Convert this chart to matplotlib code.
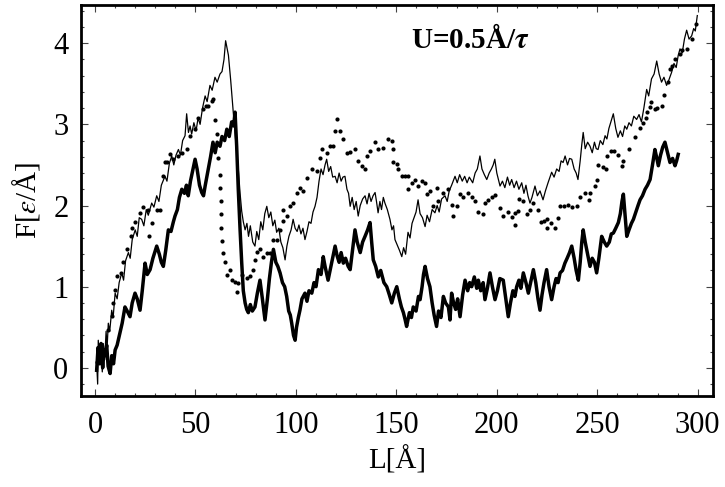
import matplotlib
matplotlib.use("Agg")
import matplotlib.pyplot as plt
from matplotlib.ticker import MultipleLocator

plt.rcParams['font.family'] = ['Liberation Serif', 'DejaVu Serif']
plt.rcParams['mathtext.fontset'] = 'stix'

# thin line series (x, y)
thin_x = [0.8, 1.3, 1.6, 2.3, 3.0, 3.6, 4.1, 4.8, 5.5, 6.0, 6.6, 7.3, 8.3, 9.0, 10.0, 11.0, 12.0, 13.3, 14.2, 15.2,
          16.6, 17.5, 18.5, 20.0, 21.0, 22.0, 23.2, 24.3, 25.5, 26.5, 28.2, 29.3, 30.7, 31.8, 33.0, 34.8, 35.8, 37.0,
          38.2, 39.2, 40.3, 41.5, 42.5, 43.6, 44.8, 45.6, 46.5, 47.3, 48.1, 49.2, 50.3, 51.3, 52.3, 53.5, 54.8, 55.8,
          57.2, 58.3, 59.7, 60.8, 62.2, 63.2, 64.2, 65.0, 66.4, 67.5, 68.8, 70.0, 71.3, 72.2, 73.0, 73.8, 74.7, 75.6,
          76.4, 77.3, 78.5, 79.6, 80.5, 81.5, 82.5, 83.5, 84.5, 85.5, 86.5, 87.5, 88.5, 89.5, 90.4, 91.5, 92.5, 93.5,
          94.6, 95.5, 96.5, 97.6, 98.6, 99.6, 100.6, 101.5, 102.5, 103.5, 104.5, 105.5, 106.5, 107.5, 108.5, 109.5,
          110.5, 111.5, 112.5, 113.5, 114.5, 115.3, 116.3, 117.3, 118.3, 119.5, 120.5, 121.5, 122.5, 123.4, 124.4,
          125.4, 126.2, 127.0, 128.0, 129.0, 130.0, 131.0, 132.0, 133.2, 134.4, 135.4, 136.4, 137.4, 138.4, 139.4,
          140.1, 140.9, 141.8, 142.6, 143.5, 144.3, 145.5, 146.8, 147.8, 148.6, 149.3, 150.3, 151.5, 152.7, 153.6,
          154.6, 155.8, 156.8, 157.8, 158.8, 159.8, 160.8, 161.8, 163.0, 164.3, 165.3, 166.5, 167.8, 169.2, 170.3,
          171.3, 172.5, 174.2, 175.3, 176.3, 177.5, 179.2, 180.3, 181.5, 182.8, 184.0, 185.2, 186.3, 188.0, 189.2,
          190.3, 191.6, 192.6, 193.8, 195.0, 196.2, 197.3, 198.2, 199.0, 200.0, 201.6, 202.8, 204.0, 205.3, 206.4,
          207.4, 208.6, 209.8, 211.0, 212.4, 213.5, 214.5, 215.5, 216.5, 217.5, 219.0, 220.2, 221.5, 223.0, 224.2,
          225.5, 227.3, 228.5, 229.8, 231.0, 232.0, 233.0, 234.0, 235.2, 236.2, 237.3, 238.5, 239.5, 240.4, 241.5,
          242.3, 243.0, 244.0, 245.2, 246.4, 247.5, 248.6, 249.5, 250.4, 251.5, 252.8, 253.9, 254.8, 255.8, 257.0,
          258.0, 259.2, 260.3, 261.5, 262.6, 263.7, 264.7, 265.8, 267.0, 268.2, 269.6, 270.8, 272.0, 273.2, 274.6,
          275.6, 277.0, 278.3, 279.6, 280.8, 282.0, 283.2, 284.5, 285.7, 287.0, 288.2, 289.3, 290.3, 291.2, 292.3,
          293.4, 294.5, 295.7, 297.0, 298.0, 298.8, 299.8]
thin_y = [0.06, -0.20, 0.34, 0.05, 0.28, -0.05, 0.30, 0.10, 0.45, 0.25, 0.55, 0.45, 0.71, 0.62, 0.92, 0.85, 1.05, 1.17,
          1.08, 1.32, 1.42, 1.35, 1.58, 1.70, 1.62, 1.85, 1.83, 1.75, 1.95, 1.88, 2.03, 1.98, 2.12, 2.05, 2.25, 2.36,
          2.30, 2.52, 2.61, 2.50, 2.62, 2.69, 2.62, 2.80, 2.86, 3.13, 2.90, 2.98, 2.88, 3.02, 2.92, 3.08, 3.00, 3.20,
          3.35, 3.28, 3.48, 3.42, 3.58, 3.52, 3.62, 3.65, 3.80, 4.03, 3.85, 3.55, 3.15, 2.80, 2.45, 2.15, 1.93, 1.80,
          1.70, 1.78, 1.62, 1.75, 1.55, 1.50, 1.68, 1.58, 1.80, 1.70, 1.90, 1.99, 1.85, 1.92, 1.75, 1.82, 1.67, 1.72,
          1.55, 1.48, 1.33, 1.50, 1.62, 1.70, 1.83, 1.72, 1.68, 1.76, 1.65, 1.72, 1.58, 1.68, 1.80, 1.78, 1.92, 1.99,
          2.10, 2.30, 2.45, 2.38, 2.50, 2.57, 2.42, 2.48, 2.35, 2.36, 2.28, 2.40, 2.30, 2.35, 2.36, 2.20, 2.15, 1.99,
          2.10, 1.95, 2.05, 1.87, 2.00, 2.08, 2.12, 2.02, 2.15, 2.05, 2.12, 2.16, 2.05, 1.91, 2.05, 1.95, 2.10, 2.03,
          1.95, 1.83, 1.70, 1.75, 1.58, 1.52, 1.45, 1.37, 1.48, 1.40, 1.67, 1.60, 1.78, 1.85, 1.92, 2.07, 1.90, 1.85,
          1.74, 1.88, 1.80, 1.95, 1.91, 2.00, 1.92, 2.08, 2.12, 2.05, 2.18, 2.25, 2.36, 2.28, 2.38, 2.30, 2.36, 2.28,
          2.35, 2.28, 2.40, 2.45, 2.61, 2.45, 2.38, 2.32, 2.40, 2.45, 2.50, 2.57, 2.40, 2.24, 2.30, 2.22, 2.35, 2.25,
          2.32, 2.22, 2.30, 2.20, 2.28, 2.15, 2.25, 2.12, 2.03, 2.10, 2.24, 2.12, 2.18, 2.07, 2.18, 2.28, 2.41, 2.35,
          2.45, 2.42, 2.55, 2.53, 2.61, 2.50, 2.58, 2.57, 2.45, 2.40, 2.32, 2.55, 2.75, 2.90, 2.70, 2.78, 2.73, 2.65,
          2.78, 2.70, 2.69, 2.80, 2.75, 2.86, 2.82, 2.95, 3.05, 3.13, 2.95, 2.84, 2.92, 2.85, 2.98, 2.94, 3.02, 2.98,
          3.10, 3.06, 3.12, 3.03, 3.20, 3.43, 3.35, 3.56, 3.62, 3.78, 3.62, 3.52, 3.58, 3.48, 3.55, 3.64, 3.75, 3.70,
          3.85, 3.93, 3.88, 4.05, 4.16, 4.05, 4.09, 4.18, 4.15, 4.34]

# thick line series
thick_x = [0.8, 1.5, 2.3, 3.0, 3.8, 4.5, 5.0, 5.8, 6.5, 7.5, 8.3, 9.2, 10.0, 11.0, 12.4, 13.5, 14.9, 16.0, 17.4, 18.5,
           19.9, 21.0, 22.4, 23.5, 24.9, 26.0, 27.4, 28.8, 30.7, 32.0, 33.0, 34.0, 35.2, 36.5, 37.8, 39.0, 39.8, 41.0,
           42.0, 43.2, 44.5, 45.5, 46.4, 47.5, 48.8, 49.8, 50.8, 52.0, 53.1, 54.0, 54.8, 56.0, 57.5, 58.7, 59.8, 60.8,
           62.2, 63.2, 64.5, 65.6, 66.8, 68.0, 69.0, 69.7, 70.5, 71.3, 72.2, 73.0, 73.8, 74.7, 75.5, 76.3, 77.3, 78.3,
           79.6, 80.8, 82.1, 83.3, 84.6, 85.8, 86.8, 87.8, 88.8, 90.0, 91.0, 92.1, 93.3, 94.4, 95.4, 96.4, 97.2, 97.9,
           98.8, 99.6, 100.3, 101.2, 102.0, 103.0, 104.5, 105.5, 106.5, 107.9, 109.0, 110.0, 111.2, 112.5, 113.6,
           114.5, 116.0, 117.0, 117.8, 118.7, 119.5, 120.5, 121.5, 122.5, 123.6, 124.7, 126.0, 127.0, 128.2, 129.4,
           130.5, 132.0, 133.2, 134.4, 135.7, 136.9, 137.7, 138.5, 139.7, 141.0, 142.2, 143.8, 145.2, 146.5, 147.7,
           149.0, 150.2, 151.5, 152.5, 153.5, 154.3, 155.1, 156.5, 157.5, 158.4, 159.8, 161.0, 161.8, 162.8, 163.5,
           164.3, 165.5, 166.7, 167.8, 168.8, 170.0, 171.0, 172.2, 173.4, 174.5, 175.9, 176.7, 177.5, 178.5, 179.5,
           180.5, 181.7, 183.0, 184.2, 185.5, 186.5, 187.5, 188.8, 190.0, 190.8, 192.0, 193.2, 194.1, 195.3, 196.6,
           197.8, 199.1, 200.3, 201.5, 203.2, 204.5, 205.7, 206.8, 208.0, 209.0, 209.9, 211.0, 212.0, 213.2, 214.5,
           215.7, 216.8, 218.2, 219.4, 220.5, 221.5, 222.5, 223.5, 224.8, 226.0, 227.3, 228.5, 229.5, 230.5, 231.5,
           232.7, 233.9, 235.0, 236.2, 237.3, 238.5, 239.5, 240.6, 241.5, 242.3, 243.0, 244.0, 245.2, 246.4, 247.5,
           248.6, 249.7, 250.8, 252.2, 253.5, 254.7, 256.0, 257.0, 258.0, 259.2, 260.5, 261.5, 262.3, 263.0, 263.8,
           264.7, 265.8, 267.0, 268.0, 269.2, 270.3, 271.3, 272.5, 273.8, 275.0, 276.3, 277.5, 278.7, 279.5, 280.4,
           281.5, 282.6, 283.7, 285.0, 286.2, 287.5, 288.7, 289.5, 290.3]
thick_y = [-0.03, 0.25, 0.05, 0.30, 0.00, 0.22, 0.15, 0.28, 0.02, -0.07, 0.15, 0.05, 0.22, 0.28, 0.43, 0.55, 0.75, 0.70,
           0.63, 0.80, 0.92, 0.85, 0.71, 0.95, 1.29, 1.15, 1.21, 1.35, 1.50, 1.40, 1.30, 1.25, 1.45, 1.70, 1.68, 1.80,
           1.87, 1.95, 2.10, 2.20, 2.15, 2.25, 2.12, 2.30, 2.45, 2.57, 2.45, 2.25, 2.16, 2.12, 2.24, 2.40, 2.60, 2.78,
           2.65, 2.78, 2.73, 2.85, 2.80, 2.94, 2.85, 3.03, 2.98, 3.15, 2.73, 2.20, 1.70, 1.30, 0.95, 0.80, 0.72, 0.68,
           0.78, 0.70, 0.75, 0.92, 1.08, 0.85, 0.59, 0.85, 1.10, 1.30, 1.46, 1.30, 1.25, 1.17, 1.05, 1.00, 0.88, 0.70,
           0.65, 0.55, 0.40, 0.34, 0.50, 0.62, 0.71, 0.85, 0.92, 0.82, 0.95, 0.92, 1.05, 1.00, 1.21, 1.15, 1.37, 1.25,
           1.08, 1.20, 1.29, 1.40, 1.50, 1.38, 1.30, 1.42, 1.29, 1.35, 1.25, 1.21, 1.45, 1.70, 1.55, 1.42, 1.55, 1.62,
           1.70, 1.79, 1.55, 1.33, 1.25, 1.12, 1.20, 1.05, 1.00, 0.90, 0.80, 0.92, 1.00, 0.85, 0.75, 0.68, 0.60, 0.51,
           0.68, 0.62, 0.75, 0.70, 0.88, 0.84, 1.00, 1.15, 1.25, 1.10, 1.00, 0.80, 0.65, 0.51, 0.70, 0.62, 0.88, 0.80,
           0.75, 0.59, 0.92, 0.80, 0.72, 0.85, 0.63, 0.90, 1.08, 0.95, 1.05, 1.00, 1.12, 0.98, 1.08, 0.95, 1.05, 0.84,
           0.98, 1.17, 1.00, 0.84, 0.95, 1.10, 1.08, 0.85, 0.63, 0.80, 0.95, 0.88, 1.00, 1.08, 0.98, 1.17, 1.05, 0.92,
           1.05, 1.21, 1.05, 0.85, 0.71, 0.90, 1.05, 1.21, 1.00, 0.84, 1.00, 1.10, 1.05, 1.17, 1.20, 1.29, 1.35, 1.42,
           1.50, 1.35, 1.20, 1.08, 1.30, 1.55, 1.70, 1.55, 1.40, 1.25, 1.35, 1.30, 1.17, 1.35, 1.62, 1.55, 1.50, 1.55,
           1.65, 1.66, 1.72, 1.79, 1.90, 2.05, 2.14, 1.90, 1.62, 1.70, 1.78, 1.83, 1.92, 2.00, 2.07, 2.12, 2.20, 2.25,
           2.32, 2.50, 2.69, 2.60, 2.49, 2.62, 2.72, 2.78, 2.65, 2.53, 2.58, 2.49, 2.55, 2.63]

# dotted series
dot_x = [0.8, 6.6, 8.3, 9.1, 10.0, 11.1, 12.8, 14.1, 16.1, 17.9, 18.3, 20.0, 22.4, 24.0, 26.5, 26.9, 28.2, 30.7, 32.4,
         34.0, 34.8, 35.7, 37.3, 39.0, 41.5, 43.5, 45.6, 47.3, 49.8, 51.4, 53.9, 55.2, 56.4, 58.1, 58.9, 59.7, 60.6,
         61.4, 62.2, 62.4, 62.6, 62.8, 62.9, 63.1, 63.9, 64.7, 65.5, 67.2, 68.0, 69.7, 70.5, 71.3, 73.0, 75.5, 77.2,
         78.8, 79.6, 80.5, 82.1, 83.8, 85.5, 87.1, 88.8, 90.5, 92.1, 93.7, 93.7, 95.4, 97.1, 98.7, 100.4, 102.0,
         103.7, 105.4, 107.9, 110.4, 112.0, 112.8, 115.3, 117.0, 118.6, 119.5, 120.3, 122.0, 123.6, 125.3, 127.0,
         129.4, 131.1, 132.8, 134.4, 135.3, 136.9, 139.4, 141.0, 143.5, 146.0, 147.7, 148.5, 148.5, 150.2, 151.0,
         152.7, 154.3, 155.9, 155.9, 157.6, 159.3, 160.9, 162.6, 164.3, 165.1, 166.7, 168.4, 170.1, 170.9, 173.4,
         175.9, 177.5, 178.4, 180.0, 181.7, 183.3, 185.8, 187.5, 189.1, 190.8, 193.3, 194.1, 195.8, 197.5, 199.1,
         201.6, 203.3, 205.4, 207.4, 209.1, 209.1, 210.4, 211.0, 213.2, 214.9, 216.5, 218.2, 220.7, 222.0, 223.5,
         224.8, 224.8, 227.0, 229.0, 230.6, 231.5, 233.4, 235.3, 237.6, 239.8, 241.4, 243.9, 245.9, 246.4, 248.9,
         250.0, 250.5, 252.7, 254.4, 254.7, 256.8, 258.5, 260.5, 262.2, 263.0, 266.0, 268.8, 271.3, 272.9, 274.3,
         274.6, 276.3, 276.8, 278.7, 279.6, 282.4, 283.4, 285.1, 286.2, 287.0, 288.7, 291.2, 292.0, 294.8, 297.0,
         299.2]
dot_y = [0.07, 0.47, 0.64, 0.80, 0.96, 1.13, 1.17, 1.31, 1.46, 1.62, 1.72, 1.80, 1.91, 1.98, 1.95, 1.62, 1.79, 1.95,
         1.95, 2.36, 2.53, 2.53, 2.63, 2.57, 2.61, 2.65, 2.69, 2.86, 2.94, 3.08, 3.19, 3.22, 3.23, 3.29, 3.31, 3.05,
         2.88, 2.58, 2.38, 2.22, 2.05, 1.89, 1.72, 1.56, 1.41, 1.31, 1.15, 1.21, 1.08, 1.06, 0.94, 1.04, 1.15, 1.11,
         1.13, 1.21, 1.33, 1.43, 1.46, 1.37, 1.41, 1.41, 1.58, 1.58, 1.70, 1.81, 1.95, 1.87, 1.99, 2.03, 2.16, 2.22,
         2.18, 2.34, 2.45, 2.42, 2.59, 2.69, 2.65, 2.73, 2.73, 2.92, 3.06, 2.92, 2.82, 2.65, 2.66, 2.69, 2.55, 2.49,
         2.45, 2.61, 2.67, 2.78, 2.69, 2.71, 2.82, 2.80, 2.69, 2.53, 2.51, 2.45, 2.36, 2.36, 2.36, 2.20, 2.28, 2.32,
         2.24, 2.30, 2.28, 2.14, 2.18, 1.99, 2.22, 2.05, 2.16, 2.20, 2.01, 1.87, 1.99, 2.14, 2.10, 2.16, 2.10, 2.05,
         1.92, 1.90, 2.03, 2.07, 2.10, 2.13, 1.97, 1.87, 1.92, 1.86, 1.76, 1.91, 1.93, 2.08, 2.05, 1.90, 1.95, 2.03,
         1.95, 1.80, 1.81, 1.83, 1.72, 1.79, 1.72, 1.84, 1.99, 2.00, 2.01, 1.98, 1.99, 2.10, 2.16, 2.07, 2.16, 2.24,
         2.32, 2.50, 2.47, 2.45, 2.61, 2.67, 2.67, 2.62, 2.49, 2.55, 2.70, 2.85, 2.96, 3.02, 3.08, 3.15, 3.21, 3.27,
         3.19, 3.20, 3.22, 3.36, 3.52, 3.68, 3.72, 3.81, 3.87, 3.91, 3.93, 4.05, 4.24]

x_ticks = [0, 50, 100, 150, 200, 250, 300]
y_ticks = [0, 1, 2, 3, 4]
x_label = "L[Å]"
y_label = "F[$\\varepsilon$/Å]"
annotation = "U=0.5Å/$\\boldsymbol{\\tau}$"

fig = plt.figure(figsize=(7.25, 4.87), dpi=100)
ax = fig.add_axes([0.1117, 0.187, 0.8717, 0.8027])

ax.plot(thin_x, thin_y, color='black', lw=0.9)
ax.plot(thick_x, thick_y, color='black', lw=2.5, solid_joinstyle='round')
ax.plot(dot_x, dot_y, linestyle='none', marker='o', ms=3.0, color='black', mec='none')

ax.set_xlim(-7, 307.6)
ax.set_ylim(-0.346, 4.47)
ax.set_xticks(x_ticks)
ax.set_yticks(y_ticks)
ax.xaxis.set_minor_locator(MultipleLocator(10))
ax.yaxis.set_minor_locator(MultipleLocator(0.2))
ax.tick_params(which='both', direction='in', top=True, right=True, labelsize=22, width=0.8, color='#444444')
ax.tick_params(which='major', length=5)
ax.tick_params(which='minor', length=2.5)
ax.tick_params(axis='x', pad=11)
ax.tick_params(axis='y', pad=9)
for s in ax.spines.values():
    s.set_linewidth(2.0)

ax.set_xlabel(x_label, fontsize=21, labelpad=4)
ax.set_ylabel(y_label, fontsize=21, labelpad=8)
ax.text(186.7, 4.04, annotation, fontsize=21, fontweight='bold', ha='center', va='center')

fig.savefig("out.png", dpi=100)
